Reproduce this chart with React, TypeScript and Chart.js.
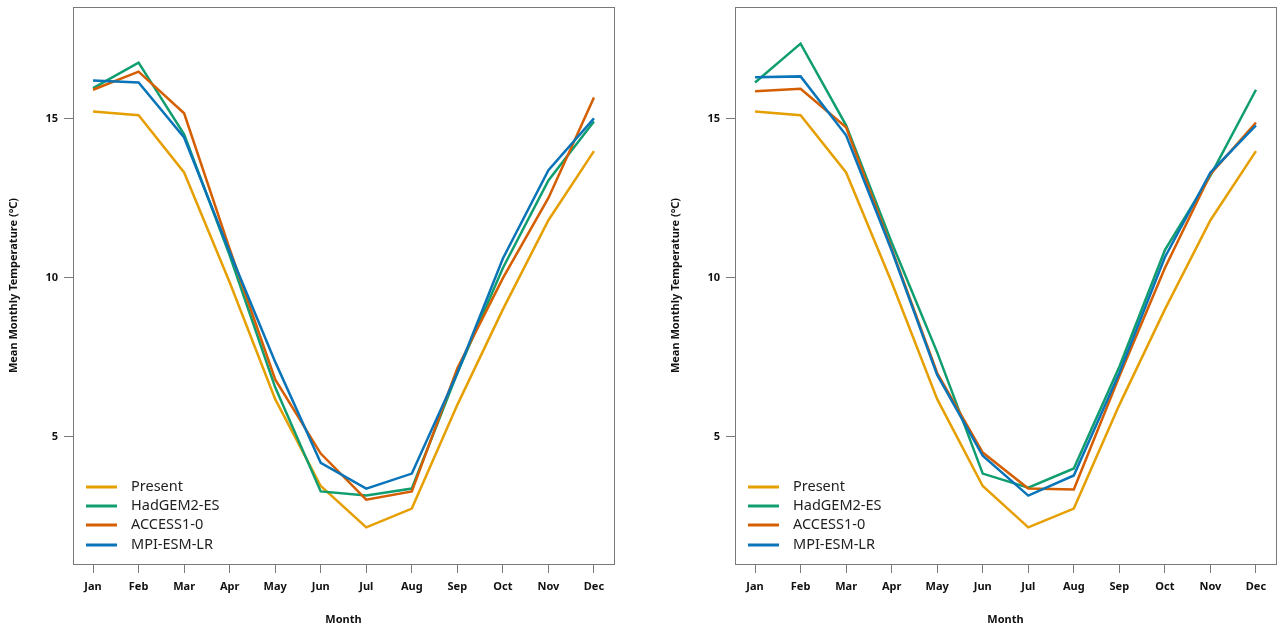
import React, { useEffect, useRef } from 'react';
import { Chart, registerables } from 'chart.js';

Chart.register(...registerables);

const months = ['Jan', 'Feb', 'Mar', 'Apr', 'May', 'Jun', 'Jul', 'Aug', 'Sep', 'Oct', 'Nov', 'Dec'];
const yTickValues = [5, 10, 15];
const seriesNames = ['Present', 'HadGEM2-ES', 'ACCESS1-0', 'MPI-ESM-LR'];
const seriesColors = ['#E69F00', '#109E70', '#D55E00', '#0A74B8'];

const present = [15.22, 15.1, 13.3, 9.85, 6.18, 3.45, 2.15, 2.74, 6.0, 9.0, 11.8, 13.97];

const hadgemLeft = [15.95, 16.75, 14.5, 10.7, 6.55, 3.28, 3.15, 3.37, 7.0, 10.3, 13.05, 14.9];
const accessLeft = [15.9, 16.47, 15.16, 10.9, 6.8, 4.47, 3.02, 3.28, 7.15, 9.98, 12.5, 15.66];
const mpiLeft = [16.19, 16.13, 14.4, 10.8, 7.35, 4.18, 3.37, 3.84, 7.0, 10.6, 13.37, 15.0];

const hadgemRight = [16.13, 17.35, 14.78, 11.1, 7.65, 3.84, 3.4, 4.0, 7.2, 10.86, 13.2, 15.9];
const accessRight = [15.85, 15.93, 14.72, 10.9, 7.0, 4.5, 3.37, 3.34, 6.9, 10.3, 13.25, 14.87];
const mpiRight = [16.29, 16.32, 14.47, 10.85, 6.94, 4.4, 3.15, 3.78, 7.0, 10.64, 13.3, 14.78];

const FONT = '"Noto Sans", "Open Sans", sans-serif';
const FRAME = '#7a7a7a';

const framePlugin = {
  id: 'frameBox',
  afterDraw(chart: any) {
    const { ctx, chartArea } = chart;
    ctx.save();
    ctx.strokeStyle = FRAME;
    ctx.lineWidth = 1;
    ctx.strokeRect(
      Math.round(chartArea.left) + 0.5,
      Math.round(chartArea.top) + 0.5,
      Math.round(chartArea.right - chartArea.left),
      Math.round(chartArea.bottom - chartArea.top)
    );
    ctx.restore();
  },
};

const legendPlugin = {
  id: 'insideLegend',
  afterDraw(chart: any) {
    const { ctx, chartArea } = chart;
    const offsets = [77, 58, 39, 19];
    ctx.save();
    ctx.font = `14.5px ${FONT}`;
    ctx.textBaseline = 'middle';
    ctx.textAlign = 'left';
    seriesNames.forEach((name, i) => {
      const y = chartArea.bottom - offsets[i];
      ctx.strokeStyle = seriesColors[i];
      ctx.lineWidth = 3;
      ctx.beginPath();
      ctx.moveTo(chartArea.left + 13, y);
      ctx.lineTo(chartArea.left + 44, y);
      ctx.stroke();
      ctx.fillStyle = '#222';
      ctx.fillText(name, chartArea.left + 58, y);
    });
    ctx.restore();
  },
};

function Panel({ left, width, rightPad, series }: { left: number; width: number; rightPad: number; series: number[][] }) {
  const ref = useRef<HTMLCanvasElement | null>(null);
  useEffect(() => {
    if (!ref.current) return;
    const order = [3, 2, 1, 0];
    const chart = new Chart(ref.current, {
      type: 'line',
      data: {
        datasets: series.map((vals, i) => ({
          label: seriesNames[i],
          data: vals.map((v, j) => ({ x: j, y: v })),
          borderColor: seriesColors[i],
          backgroundColor: seriesColors[i],
          borderWidth: 2.5,
          pointRadius: 0,
          tension: 0,
          fill: false,
          order: order[i],
        })),
      },
      options: {
        responsive: false,
        animation: false,
        layout: { padding: { top: 7, right: rightPad, left: 0, bottom: 0 } },
        plugins: { legend: { display: false }, tooltip: { enabled: false } },
        scales: {
          x: {
            type: 'linear',
            min: -0.44,
            max: 11.44,
            afterBuildTicks: (scale: any) => {
              scale.ticks = months.map((_, i) => ({ value: i }));
            },
            afterFit: (scale: any) => {
              scale.height = 69;
              scale.paddingLeft = 0;
              scale.paddingRight = 0;
            },
            ticks: {
              callback: (v: any) => months[v as number] ?? '',
              font: { family: FONT, size: 11, weight: 'bold' },
              color: '#111',
              padding: 7,
              maxRotation: 0,
              autoSkip: false,
            },
            grid: { drawOnChartArea: false, drawTicks: true, tickLength: 9, color: FRAME },
            border: { display: false },
            title: {
              display: true,
              text: 'Month',
              font: { family: FONT, size: 11, weight: 'bold' },
              color: '#111',
              padding: { top: 0, bottom: 6.4 },
            },
          },
          y: {
            type: 'linear',
            min: 1.0,
            max: 18.5,
            afterBuildTicks: (scale: any) => {
              scale.ticks = yTickValues.map((v) => ({ value: v }));
            },
            afterFit: (scale: any) => {
              scale.width = 73;
              scale.paddingTop = 0;
              scale.paddingBottom = 0;
            },
            ticks: {
              callback: (v: any) => String(v),
              font: { family: FONT, size: 11, weight: 'bold' },
              color: '#111',
              padding: 6,
            },
            grid: { drawOnChartArea: false, drawTicks: true, tickLength: 9, color: FRAME },
            border: { display: false },
            title: {
              display: true,
              text: 'Mean Monthly Temperature (°C)',
              font: { family: FONT, size: 11, weight: 'bold' },
              color: '#111',
              padding: { top: 7.4, bottom: 0 },
            },
          },
        },
      },
      plugins: [framePlugin, legendPlugin],
    } as any);
    return () => chart.destroy();
  }, []);
  return (
    <canvas
      ref={ref}
      width={width}
      height={633}
      style={{ position: 'absolute', left, top: 0, width, height: 633 }}
    />
  );
}

export default function App() {
  return (
    <div style={{ position: 'absolute', left: 0, top: 0, width: 1278, height: 633, background: '#fff', overflow: 'hidden' }}>
      <Panel left={0} width={640} rightPad={26} series={[present, hadgemLeft, accessLeft, mpiLeft]} />
      <Panel left={662} width={616} rightPad={2} series={[present, hadgemRight, accessRight, mpiRight]} />
    </div>
  );
}
